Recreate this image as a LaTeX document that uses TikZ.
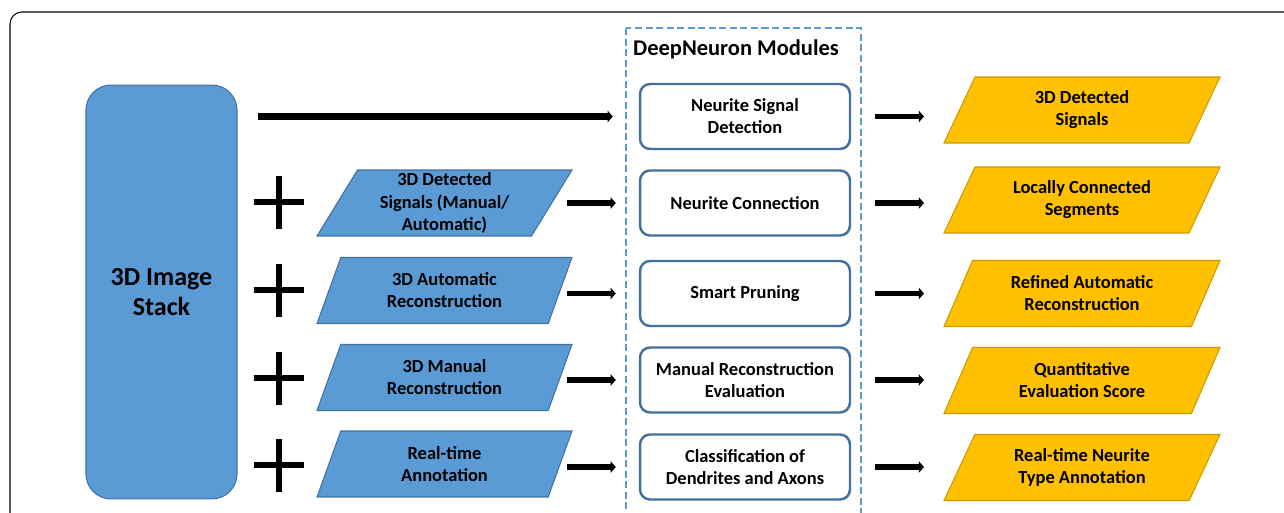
\documentclass[tikz,border=0pt]{standalone}
\usepackage{fontspec}
\setmainfont{Carlito}
\usetikzlibrary{arrows.meta,shapes.geometric}

\definecolor{stackblue}{HTML}{5B9BD5}
\definecolor{edgeblue}{HTML}{41719C}
\definecolor{outgold}{HTML}{FFC000}
\definecolor{edgegold}{HTML}{C99A00}

\begin{document}
\begin{tikzpicture}[
  x=0.02cm,
  y=-0.02cm,
  font=\bfseries\fontsize{10.5}{12.6}\selectfont,
  line/.style={draw=black,line width=3.4pt},
  arrow/.style={line,-{Triangle[length=3pt,width=6.5pt]}},
  inarrow/.style={arrow,shorten <=2.45cm,shorten >=0.46cm},
  outarrow/.style={arrow,shorten <=0.48cm,shorten >=3.16cm},
  plussign/.style={draw=black,line width=3.4pt},
  stackbox/.style={fill=stackblue,draw=edgeblue,line width=0.6pt,rounded corners=0.5cm,
    minimum width=3.02cm,minimum height=8.28cm,align=center,font=\bfseries\fontsize{14.8}{16.6}\selectfont},
  inputbox/.style={trapezium,trapezium left angle=56,trapezium right angle=124,trapezium stretches body,
    fill=stackblue,draw=edgeblue,line width=0.6pt,inner sep=0pt,align=center,
    minimum width=5.1cm,minimum height=1.32cm},
  module/.style={draw=edgeblue,fill=white,line width=1.4pt,rounded corners=0.2cm,align=center,
    minimum width=4.2cm,minimum height=1.3cm},
  outputbox/.style={trapezium,trapezium left angle=51,trapezium right angle=129,trapezium stretches body,
    fill=outgold,draw=edgegold,line width=0.6pt,inner sep=0pt,align=center,
    minimum width=5.52cm,minimum height=1.32cm}
]
\useasboundingbox (0,0) rectangle (1284,513);
\clip (0,0) rectangle (1284,513);

% Frame round the whole figure (runs off the right and bottom)
\draw[black,line width=0.6pt,rounded corners=0.24cm] (10,12) rectangle (1320,540);

% Module group
\draw[stackblue,line width=1.1pt,dash pattern=on 4pt off 2pt] (626,28) rectangle (861,560);
\node[font=\bfseries\fontsize{12.8}{15}\selectfont] (title) at (736,49) {DeepNeuron Modules};

% Input image stack
\node[stackbox] (stack) at (161.5,292) {3D Image\\Stack};

% Optional inputs
\node[inputbox] (detin)  at (444.5,203)   {3D Detected\\Signals (Manual/\\Automatic)};
\node[inputbox] (autoin) at (444.5,290.5) {3D Automatic\\Reconstruction};
\node[inputbox] (manin)  at (444.5,377.5) {3D Manual\\Reconstruction};
\node[inputbox] (annin)  at (444.5,464)   {Real-time\\Annotation};

% Modules
\node[module] (detect)   at (745,116.5) {Neurite Signal\\Detection};
\node[module] (connect)  at (745,203)   {Neurite Connection};
\node[module] (prune)    at (745,293.5) {Smart Pruning};
\node[module] (evaluate) at (745,380)   {Manual Reconstruction\\Evaluation};
\node[module] (classify) at (745,467)   {Classification of\\Dendrites and Axons};

% Outputs
\node[outputbox] (sigout)   at (1082,110)   {3D Detected\\Signals};
\node[outputbox] (segout)   at (1082,200)   {Locally Connected\\Segments};
\node[outputbox] (refout)   at (1082,293.5) {Refined Automatic\\Reconstruction};
\node[outputbox] (scoreout) at (1082,380.5) {Quantitative\\Evaluation Score};
\node[outputbox] (typeout)  at (1082,467.5) {Real-time Neurite\\Type Annotation};

% Plus signs in front of the optional inputs
\foreach \y in {202,290,378,465}{
  \draw[plussign] (254,\y) -- (304,\y);
  \draw[plussign] (279,\y-26) -- (279,\y+27);
}

% Connectors
\draw[arrow,line width=4pt,shorten <=0.4cm,shorten >=0.52cm] (stack.east |- detect.west) -- (detect.west);
\draw[inarrow] (detin.center |- connect.west) -- (connect.west);
\draw[inarrow] (autoin.center |- prune.west) -- (prune.west);
\draw[inarrow] (manin.center |- evaluate.west) -- (evaluate.west);
\draw[inarrow] (annin.center |- classify.west) -- (classify.west);

\draw[outarrow] (detect.east) -- (detect.east -| sigout.center);
\draw[outarrow] (connect.east) -- (connect.east -| segout.center);
\draw[outarrow] (prune.east) -- (prune.east -| refout.center);
\draw[outarrow] (evaluate.east) -- (evaluate.east -| scoreout.center);
\draw[outarrow] (classify.east) -- (classify.east -| typeout.center);

\end{tikzpicture}
\end{document}
